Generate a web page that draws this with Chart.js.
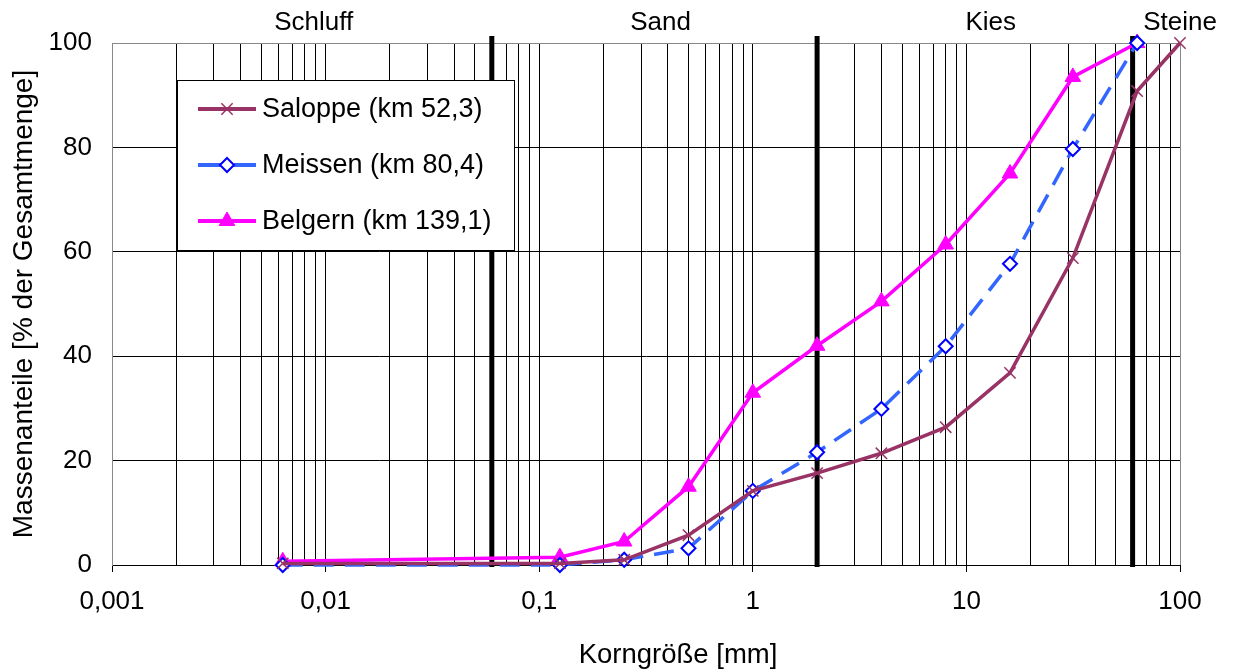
<!DOCTYPE html>
<html lang="de">
<head>
<meta charset="UTF-8">
<title>Kornverteilung</title>
<script src="https://cdn.jsdelivr.net/npm/chart.js"></script>
<style>
  body { margin: 0; background: #fff; }
  #wrap { width: 1235px; height: 671px; }
</style>
</head>
<body>
<div id="wrap"><canvas id="sieveChart"></canvas></div>
<script>
// Siebstufen [mm] und Siebdurchgang [%]
const grainSizes = [0.0063, 0.125, 0.25, 0.5, 1, 2, 4, 8, 16, 31.5, 63, 100];
const saloppe = [0.3, 0.3, 1, 5.7, 14.2, 17.6, 21.4, 26.4, 36.8, 58.8, 90.8, 100];
const meissen = [0, 0, 1, 3.2, 14.2, 21.6, 29.9, 41.9, 57.7, 79.7, 100];
const belgern = [0.7, 1.5, 4.5, 15, 33, 42, 50.5, 61.4, 75, 93.5, 100];

const seriesNames = ['Saloppe (km 52,3)', 'Meissen (km 80,4)', 'Belgern (km 139,1)'];

// Achsenbeschriftung
const decades = [0.001, 0.01, 0.1, 1, 10, 100];
const decadeLabels = ['0,001', '0,01', '0,1', '1', '10', '100'];
const yTicks = [0, 20, 40, 60, 80, 100];
const xTitle = 'Korngröße [mm]';
const yTitle = 'Massenanteile [% der Gesamtmenge]';

// Bodenarten: Grenzen und Beschriftung oben
const zoneBounds = [0.06, 2, 60];
const zoneNames = ['Schluff', 'Sand', 'Kies', 'Steine'];
const zoneLabelAt = [0.0088, 0.37, 13, 100];

const FONT = "'Liberation Sans', Arial, sans-serif";

function pts(vals) {
  return vals.map((v, i) => ({ x: grainSizes[i], y: v }));
}

// log grid: 1..9 in every decade
const gridValues = [];
for (let d = 0; d < decades.length - 1; d++) {
  for (let k = 1; k < 10; k++) gridValues.push(k * decades[d]);
}
gridValues.push(decades[decades.length - 1]);

function decadeIndex(v) {
  return decades.findIndex(d => Math.abs(v - d) / d < 1e-6);
}

// thick lines at the soil class boundaries
const boundaryPlugin = {
  id: 'boundaries',
  beforeDatasetsDraw(chart) {
    const { ctx, chartArea, scales } = chart;
    ctx.save();
    ctx.strokeStyle = '#000';
    ctx.lineWidth = 5;
    zoneBounds.forEach(b => {
      const x = scales.x.getPixelForValue(b);
      ctx.beginPath();
      ctx.moveTo(x, chartArea.top - 7);
      ctx.lineTo(x, chartArea.bottom + 2);
      ctx.stroke();
    });
    ctx.restore();
  }
};

// class names above the plot, x title and the boxed legend
const labelsPlugin = {
  id: 'labels',
  afterDraw(chart) {
    const { ctx, scales, chartArea } = chart;
    ctx.save();
    ctx.fillStyle = '#000';
    ctx.font = '26px ' + FONT;
    ctx.textAlign = 'center';
    ctx.textBaseline = 'middle';
    zoneNames.forEach((name, i) => {
      ctx.fillText(name, scales.x.getPixelForValue(zoneLabelAt[i]), 23);
    });

    ctx.font = '27.5px ' + FONT;
    ctx.fillText(xTitle, (chartArea.left + chartArea.right) / 2 + 32, 655);

    const box = { x: 177.5, y: 80.5, w: 337, h: 170 };
    ctx.fillStyle = '#fff';
    ctx.fillRect(box.x, box.y, box.w, box.h);
    ctx.strokeStyle = '#000';
    ctx.lineWidth = 1;
    ctx.strokeRect(box.x, box.y, box.w, box.h);

    const rowY = [109, 165, 221];
    ctx.font = '27px ' + FONT;
    ctx.textAlign = 'left';
    chart.data.datasets.forEach((ds, i) => {
      const y = rowY[i];
      ctx.setLineDash([]);
      ctx.strokeStyle = ds.borderColor;
      ctx.lineWidth = 4;
      ctx.beginPath();
      ctx.moveTo(198, y);
      ctx.lineTo(256, y);
      ctx.stroke();
      ctx.fillStyle = ds.pointBackgroundColor;
      ctx.strokeStyle = ds.pointBorderColor;
      ctx.lineWidth = ds.pointBorderWidth;
      Chart.helpers.drawPoint(ctx, {
        pointStyle: ds.pointStyle, radius: ds.pointRadius, rotation: 0, borderWidth: ds.pointBorderWidth
      }, 227, y);
      ctx.fillStyle = '#000';
      ctx.fillText(ds.label, 262, y + 1);
    });
    ctx.restore();
  }
};

new Chart(document.getElementById('sieveChart'), {
  type: 'line',
  data: {
    datasets: [
      {
        label: seriesNames[0],
        data: pts(saloppe),
        borderColor: '#993366',
        borderWidth: 3.5,
        pointStyle: 'crossRot',
        pointRadius: 8,
        pointBorderColor: '#993366',
        pointBackgroundColor: '#993366',
        pointBorderWidth: 1.5,
        clip: false
      },
      {
        label: seriesNames[1],
        data: pts(meissen),
        borderColor: '#3366FF',
        borderWidth: 3.5,
        borderDash: [20, 11],
        pointStyle: 'rectRot',
        pointRadius: 7,
        pointBorderColor: '#0000FF',
        pointBackgroundColor: '#FFFFFF',
        pointBorderWidth: 2,
        clip: false
      },
      {
        label: seriesNames[2],
        data: pts(belgern),
        borderColor: '#FF00FF',
        borderWidth: 3.5,
        pointStyle: 'triangle',
        pointRadius: 9,
        pointBorderColor: '#FF00FF',
        pointBackgroundColor: '#FF00FF',
        pointBorderWidth: 1,
        clip: false
      }
    ]
  },
  options: {
    responsive: true,
    maintainAspectRatio: false,
    animation: false,
    layout: { padding: { top: 43, right: 55, bottom: 0, left: 0 } },
    plugins: { legend: { display: false }, tooltip: { enabled: false } },
    scales: {
      x: {
        type: 'logarithmic',
        min: decades[0],
        max: decades[decades.length - 1],
        afterBuildTicks: s => { s.ticks = gridValues.map(v => ({ value: v })); },
        afterFit: s => { s.height = 106; },
        border: { display: true, color: '#000', width: 1 },
        grid: {
          color: c => (c.tick && (c.tick.value === decades[0] || c.tick.value === decades[decades.length - 1])) ? '#888' : '#000',
          lineWidth: 1,
          drawTicks: true,
          tickLength: 7,
          tickColor: c => decadeIndex(c.tick.value) >= 0 ? '#000' : 'rgba(0,0,0,0)'
        },
        ticks: {
          autoSkip: false,
          maxRotation: 0,
          padding: 14,
          color: '#000',
          font: { family: FONT, size: 26 },
          callback: v => { const i = decadeIndex(v); return i >= 0 ? decadeLabels[i] : ''; }
        }
      },
      y: {
        min: yTicks[0],
        max: yTicks[yTicks.length - 1],
        afterBuildTicks: s => { s.ticks = yTicks.map(v => ({ value: v })); },
        afterFit: s => { s.width = 112; },
        border: { display: true, color: '#888', width: 1 },
        grid: {
          color: c => c.tick && c.tick.value === 100 ? '#888' : '#000',
          lineWidth: 1,
          drawTicks: false
        },
        ticks: {
          padding: 20,
          color: '#000',
          font: { family: FONT, size: 26 }
        },
        title: {
          display: true,
          text: yTitle,
          color: '#000',
          font: { family: FONT, size: 28 },
          padding: { top: 7, bottom: 0 }
        }
      }
    }
  },
  plugins: [boundaryPlugin, labelsPlugin]
});
</script>
</body>
</html>
